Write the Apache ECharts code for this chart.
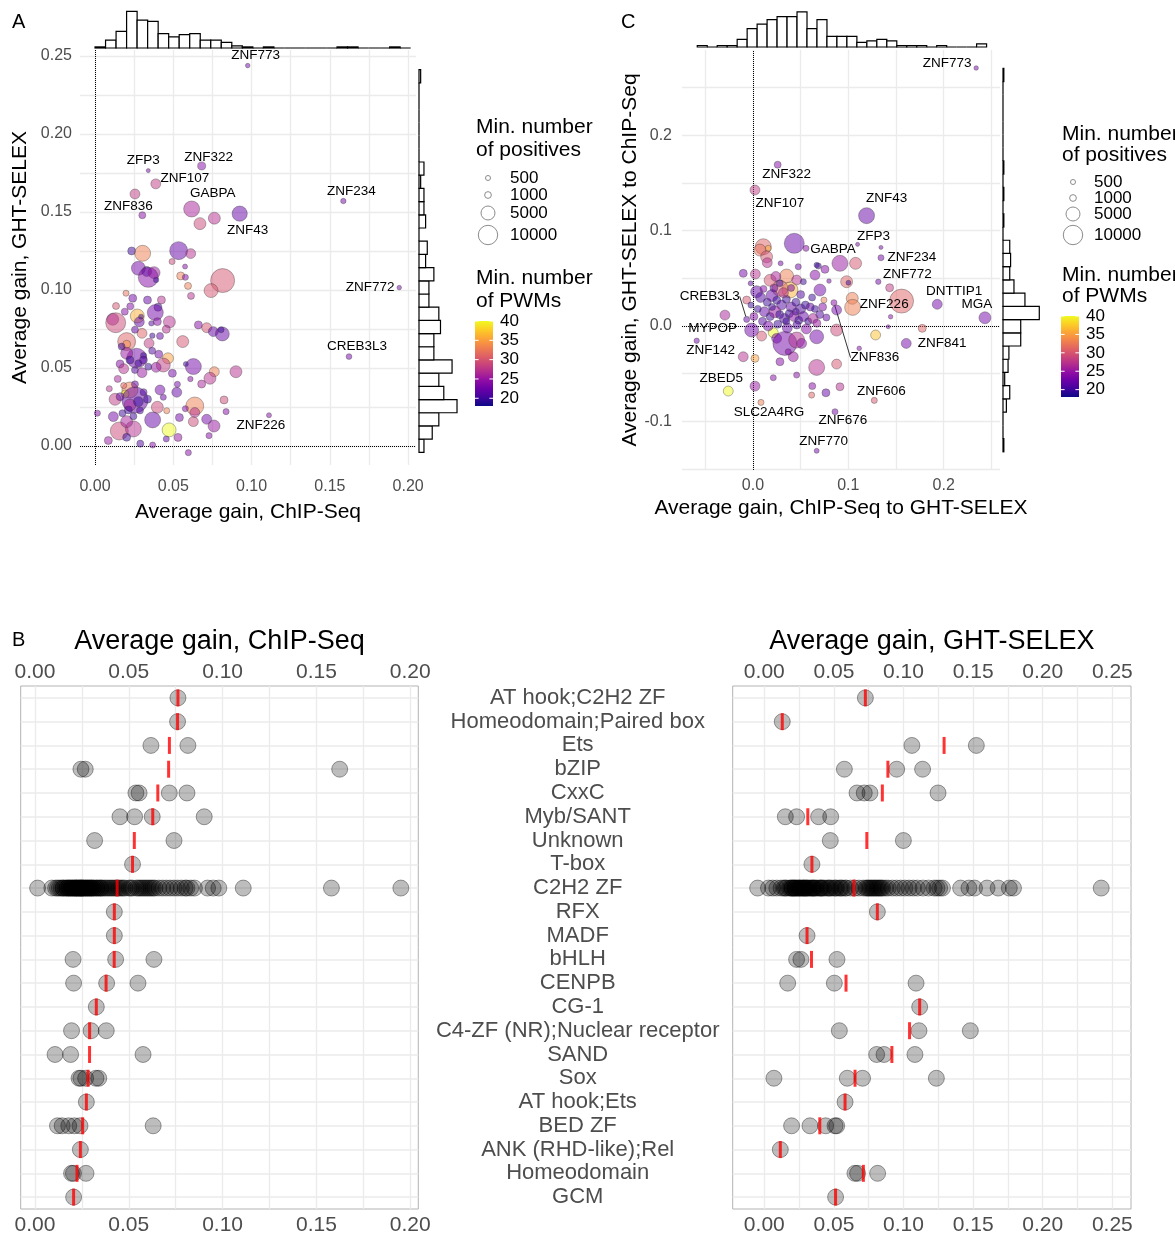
<!DOCTYPE html>
<html>
<head>
<meta charset="utf-8">
<script src="https://cdn.jsdelivr.net/npm/echarts@6/dist/echarts.min.js"></script>
<style>
  html, body { margin: 0; padding: 0; background: #fff; }
  #main { width: 1175px; height: 1236px; }
</style>
</head>
<body>
<div id="main"></div>
<script>
// ---- data ----
// panel A: [chip gain, ght gain, min positives, min PWMs, label]
var pointsA = [
  [0.0975, 0.2438, 400, 23, 'ZNF773'], [0.0681, 0.1795, 1500, 24, 'ZNF322'], [0.034, 0.1765, 300, 23, 'ZFP3'],
  [0.0388, 0.168, 2400, 28, 'ZNF107'], [0.0302, 0.1479, 1100, 24, 'ZNF836'], [0.0617, 0.1519, 6670, 26, 'GABPA'],
  [0.0924, 0.1489, 6000, 22, 'ZNF43'], [0.1586, 0.157, 600, 23, 'ZNF234'], [0.1943, 0.1015, 400, 23, 'ZNF772'],
  [0.1622, 0.0573, 700, 23, 'CREB3L3'], [0.1111, 0.0197, 500, 24, 'ZNF226'],
  [0.0255, 0.1615, 2400, 28], [0.067, 0.1425, 3600, 29], [0.0762, 0.146, 3600, 27], [0.0234, 0.125, 1480, 20],
  [0.0304, 0.1235, 6670, 33], [0.0534, 0.1252, 8540, 22], [0.0611, 0.1233, 2400, 27], [0.0492, 0.1182, 800, 29],
  [0.0575, 0.115, 500, 24], [0.0277, 0.1139, 5000, 23], [0.033, 0.1118, 2400, 20], [0.0377, 0.1111, 3600, 25],
  [0.034, 0.1081, 10660, 24], [0.039, 0.1064, 600, 20], [0.0547, 0.109, 1480, 33], [0.0577, 0.1081, 800, 24],
  [0.0815, 0.106, 15580, 30], [0.0594, 0.1026, 1100, 33], [0.0741, 0.0996, 5000, 30], [0.0613, 0.0962, 1100, 27],
  [0.0198, 0.0979, 800, 32], [0.0241, 0.0947, 1480, 23], [0.0424, 0.0936, 1480, 27], [0.0134, 0.0897, 1100, 30],
  [0.019, 0.0861, 1100, 24], [0.0402, 0.0889, 1480, 20], [0.0385, 0.0855, 6670, 23], [0.027, 0.0833, 5000, 36],
  [0.0294, 0.0829, 500, 20], [0.0113, 0.0812, 3600, 25], [0.0132, 0.079, 10660, 29], [0.0283, 0.0795, 2400, 22],
  [0.036, 0.0786, 600, 21], [0.0398, 0.0797, 1480, 24], [0.0475, 0.0795, 3600, 27], [0.03, 0.0722, 2400, 31],
  [0.0366, 0.0707, 600, 20], [0.066, 0.0776, 1480, 24], [0.0713, 0.0758, 2400, 30], [0.0755, 0.0733, 2400, 22],
  [0.0813, 0.0718, 5000, 22], [0.0805, 0.0745, 800, 20], [0.0202, 0.0669, 8540, 31], [0.0202, 0.0652, 1480, 34],
  [0.0345, 0.0658, 2400, 28], [0.0266, 0.0562, 10660, 23], [0.031, 0.058, 800, 20], [0.016, 0.0526, 1480, 24],
  [0.0202, 0.0594, 3600, 25], [0.0407, 0.0588, 1480, 23], [0.0466, 0.0562, 3000, 35], [0.0436, 0.0519, 5000, 28],
  [0.039, 0.0504, 2400, 25], [0.056, 0.0669, 3600, 30], [0.0628, 0.0509, 6670, 23], [0.058, 0.0525, 500, 20],
  [0.0494, 0.0466, 1480, 23], [0.0762, 0.0476, 2400, 33], [0.0734, 0.0434, 3600, 27], [0.09, 0.0476, 3600, 27],
  [0.0609, 0.0429, 600, 24], [0.0681, 0.0397, 1480, 26], [0.0526, 0.0395, 800, 23], [0.0522, 0.0344, 2400, 22],
  [0.0415, 0.0359, 2400, 23], [0.0436, 0.0312, 800, 22], [0.0223, 0.0359, 6670, 33], [0.0183, 0.0387, 800, 31],
  [0.0091, 0.0367, 800, 27], [0.0192, 0.0333, 1480, 40], [0.0128, 0.0299, 3600, 28], [0.0255, 0.0295, 18500, 22],
  [0.0223, 0.0263, 3600, 26], [0.0398, 0.0248, 3600, 29], [0.0458, 0.0226, 800, 33], [0.0637, 0.0256, 8540, 33],
  [0.0637, 0.0214, 2400, 27], [0.0628, 0.0156, 2400, 29], [0.0577, 0.0239, 800, 24], [0.0539, 0.0182, 1480, 23],
  [0.0713, 0.0171, 2400, 23], [0.076, 0.0128, 3600, 25], [0.0824, 0.0295, 1480, 29], [0.0837, 0.022, 800, 24],
  [0.0728, 0.0066, 800, 24], [0.0473, 0.0103, 5000, 40], [0.0368, 0.0167, 6670, 22], [0.0155, 0.0096, 8540, 29],
  [0.0245, 0.0109, 6670, 27], [0.0202, 0.0056, 1480, 20], [0.0117, 0.0188, 2400, 23], [0.0202, 0.0156, 3600, 26],
  [0.0015, 0.021, 800, 24], [0.0368, 0.0006, 800, 24], [0.0596, -0.0043, 800, 24],
  [0.017, 0.0637, 1100, 20], [0.0223, 0.0551, 1480, 20], [0.0277, 0.053, 1100, 20], [0.0309, 0.0551, 1480, 21],
  [0.034, 0.0508, 1100, 20], [0.0255, 0.0487, 1100, 21], [0.0183, 0.0495, 2400, 27], [0.03, 0.047, 2400, 25],
  [0.016, 0.0316, 1480, 22], [0.0277, 0.0284, 2400, 20], [0.0213, 0.0231, 1480, 20], [0.0287, 0.0228, 1100, 21],
  [0.0245, 0.019, 1100, 20], [0.0175, 0.021, 1100, 20], [0.0335, 0.03, 1480, 20], [0.0255, 0.0395, 1100, 22],
  [0.031, 0.0345, 1100, 21], [0.0145, 0.043, 1100, 26], [0.0365, 0.061, 1100, 21], [0.0415, 0.0705, 1100, 22],
  [0.0455, 0.0748, 1480, 27], [0.0255, 0.0745, 1100, 22], [0.0225, 0.0895, 1100, 24], [0.0335, 0.0935, 1480, 22],
  [0.0455, 0.0045, 800, 22], [0.0289, 0.0015, 1100, 21], [0.053, 0.0055, 1480, 25], [0.0085, 0.0035, 1480, 25]
];

// panel C: [chip->ght gain, ght->chip gain, min positives, min PWMs, label]
var pointsC = [
  [0.234, 0.2707, 400, 23, 'ZNF773'], [0.0259, 0.1693, 1100, 24, 'ZNF322'], [0.0021, 0.1427, 2400, 28, 'ZNF107'],
  [0.1191, 0.1158, 6670, 22, 'ZNF43'], [0.1097, 0.0857, 300, 23, 'ZFP3'], [0.0556, 0.0815, 800, 24, 'GABPA'],
  [0.1342, 0.0717, 800, 23, 'ZNF234'], [0.1314, 0.0465, 600, 23, 'ZNF772'], [0.1041, 0.0291, 3600, 33, 'ZNF226'],
  [0.1932, 0.0228, 2400, 23, 'DNTTIP1'], [0.2432, 0.0087, 3600, 23, 'MGA'], [0.1607, -0.0182, 2400, 23, 'ZNF841'],
  [0.0849, 0.0245, 800, 24, 'ZNF836'], [-0.0066, 0.007, 800, 22, 'CREB3L3'], [-0.0014, -0.0042, 5000, 23, 'MYPOP'],
  [-0.059, -0.0154, 600, 23, 'ZNF142'], [-0.0259, -0.0682, 2400, 40, 'ZBED5'], [0.0084, -0.0801, 800, 33, 'SLC2A4RG'],
  [0.1272, -0.078, 800, 30, 'ZNF606'], [0.086, -0.0899, 800, 23, 'ZNF676'], [0.0668, -0.1309, 500, 23, 'ZNF770'],
  [0.0433, 0.0868, 10660, 22], [0.0108, 0.0832, 6670, 31], [0.016, 0.0815, 800, 36], [0.0073, 0.0797, 3600, 32],
  [0.0143, 0.0727, 3600, 30], [0.015, 0.0665, 2400, 27], [0.029, 0.0658, 500, 23], [0.1342, 0.0825, 300, 23],
  [0.0912, 0.0658, 6670, 25], [0.1076, 0.0658, 3600, 30], [0.0685, 0.063, 800, 20], [0.0755, 0.0595, 1480, 24],
  [0.0982, 0.0465, 3600, 31], [0.1001, 0.0455, 500, 20], [0.0797, 0.0472, 400, 23], [0.1433, 0.0402, 1480, 28],
  [0.1558, 0.0262, 15580, 31], [0.1775, -0.0024, 1480, 31], [0.1443, 0.0098, 400, 24], [0.1418, -0.0007, 300, 23],
  [0.1286, -0.0094, 2400, 37], [0.1045, 0.0196, 6670, 33], [0.0877, 0.0168, 2400, 23], [0.0744, 0.0273, 800, 33],
  [0.0702, 0.0378, 3600, 23], [0.065, 0.0535, 2400, 24], [0.0668, 0.064, 600, 20], [0.0475, 0.0622, 800, 23],
  [0.0353, 0.0525, 5000, 33], [0.0458, 0.0483, 2400, 27], [0.0528, 0.0465, 800, 20], [0.0388, 0.0378, 6670, 36],
  [0.0283, 0.0396, 6670, 31], [-0.0102, 0.0553, 1480, 23], [-0.0024, 0.0448, 500, 22], [0.0038, 0.036, 3600, 22],
  [-0.0066, 0.0273, 1480, 30], [-0.0021, 0.022, 800, 20], [-0.0294, 0.0115, 2400, 26], [0.0213, -0.007, 2400, 40],
  [0.0091, -0.0105, 2400, 30], [0.0248, -0.0129, 2400, 23], [0.0335, -0.0182, 15580, 23], [0.0458, -0.0147, 6670, 27],
  [0.0668, -0.0112, 5000, 23], [0.0877, -0.0042, 3600, 29], [0.051, -0.0182, 2400, 24], [0.1114, -0.0234, 400, 24],
  [-0.0102, -0.0322, 2400, 27], [0.0021, -0.0339, 1480, 35], [0.0283, -0.0374, 1480, 24], [0.0423, -0.0322, 2400, 25],
  [0.037, -0.027, 800, 24], [0.0668, -0.0434, 6670, 27], [0.0877, -0.0399, 2400, 30], [0.0213, -0.0542, 800, 24],
  [0.0458, -0.0514, 800, 24], [0.0021, -0.063, 2400, 25], [0.0622, -0.063, 1100, 24], [0.0912, -0.0637, 1480, 27],
  [0.0765, -0.07, 1480, 22], [0.0615, -0.0724, 800, 31],
  [0.008, 0.03, 2400, 21], [0.015, 0.025, 1480, 20], [0.02, 0.032, 3600, 22], [0.025, 0.027, 1480, 20],
  [0.03, 0.022, 2400, 21], [0.035, 0.028, 1480, 20], [0.04, 0.02, 2400, 22], [0.045, 0.025, 1480, 20],
  [0.05, 0.018, 2400, 21], [0.055, 0.022, 1480, 20], [0.06, 0.02, 1480, 22], [0.065, 0.018, 1100, 20],
  [0.07, 0.012, 1480, 21], [0.012, 0.015, 2400, 22], [0.018, 0.01, 1480, 20], [0.023, 0.015, 3600, 25],
  [0.028, 0.012, 1480, 20], [0.033, 0.008, 2400, 21], [0.038, 0.013, 1480, 20], [0.043, 0.01, 2400, 24],
  [0.048, 0.006, 1480, 20], [0.053, 0.01, 2400, 22], [0.058, 0.005, 1100, 20], [0.063, 0.008, 2400, 26],
  [0.01, 0.005, 1480, 21], [0.016, 0.0, 2400, 23], [0.026, 0.002, 1480, 20], [0.036, -0.002, 2400, 22],
  [0.046, 0.001, 1480, 21], [0.056, -0.003, 2400, 24], [0.032, 0.035, 2400, 27], [0.022, 0.04, 1480, 22],
  [0.011, 0.039, 1100, 24], [0.05, 0.033, 1480, 21], [0.062, 0.03, 1100, 20], [0.073, 0.02, 1480, 24],
  [0.077, 0.009, 1100, 22], [0.005, 0.018, 1100, 20], [0.001, 0.01, 1480, 24], [0.04, 0.04, 1100, 23],
  [0.028, 0.045, 1100, 20], [0.018, 0.048, 3600, 30], [0.024, 0.052, 2400, 26], [0.035, 0.005, 1100, 20],
  [0.045, 0.015, 1100, 21], [0.02, 0.02, 1100, 20], [0.067, 0.003, 1480, 25], [0.0025, 0.0545, 2400, 27]
];

// marginal histograms (counts per bin)
var histATop = [1, 7, 15, 33, 25, 24, 13, 10, 12, 13, 7, 7, 5, 2, 1, 0, 1, 0, 0, 0, 0, 0, 0, 1, 1, 0, 0, 0, 1, 0];
var histATopStart = 0, histATopWidth = 0.00672;
var histARight = [3, 8, 12, 23, 15, 12, 20, 9, 9, 13, 12, 6, 6, 9, 4, 5, 0, 4, 3, 3, 1, 3, 0, 0, 0, 0, 0, 0, 1];
var histARightStart = -0.0041, histARightWidth = 0.00846;
var histCTop = [1, 0, 1, 1, 5, 12, 15, 18, 20, 20, 23, 12, 18, 7, 7, 7, 3, 4, 5, 4, 1, 1, 1, 0, 1, 0, 0, 0, 2];
var histCTopStart = -0.0584, histCTopWidth = 0.01046;
var histCRight = [1, 0, 0, 4, 8, 2, 6, 7, 21, 21, 43, 26, 13, 8, 9, 8, 0, 1, 0, 1, 0, 1, 0, 0, 0, 0, 0, 0, 1];
var histCRightStart = -0.1319, histCRightWidth = 0.01387;

// panel B
var families = ['AT hook;C2H2 ZF', 'Homeodomain;Paired box', 'Ets', 'bZIP', 'CxxC', 'Myb/SANT', 'Unknown', 'T-box',
  'C2H2 ZF', 'RFX', 'MADF', 'bHLH', 'CENPB', 'CG-1', 'C4-ZF (NR);Nuclear receptor', 'SAND', 'Sox', 'AT hook;Ets',
  'BED ZF', 'ANK (RHD-like);Rel', 'Homeodomain', 'GCM'];
var chipByFamily = [
  [0.0762], [0.076], [0.0618, 0.0815], [0.0245, 0.0268, 0.1624], [0.0538, 0.0555, 0.0716, 0.081],
  [0.0453, 0.0531, 0.0625, 0.0902], [0.0318, 0.0741], [0.052],
  [0.0014, 0.009, 0.011, 0.012, 0.013, 0.014, 0.015, 0.015, 0.016, 0.017, 0.017, 0.018, 0.018, 0.019, 0.019,
   0.02, 0.02, 0.021, 0.021, 0.022, 0.022, 0.022, 0.023, 0.023, 0.024, 0.024, 0.024, 0.025, 0.025, 0.025, 0.026,
   0.026, 0.027, 0.027, 0.028, 0.028, 0.029, 0.029, 0.03, 0.03, 0.031, 0.031, 0.032, 0.033, 0.033, 0.034, 0.035,
   0.035, 0.036, 0.037, 0.038, 0.039, 0.04, 0.041, 0.042, 0.043, 0.044, 0.045, 0.046, 0.047, 0.048, 0.05, 0.051,
   0.052, 0.054, 0.055, 0.056, 0.057, 0.058, 0.059, 0.06, 0.061, 0.062, 0.063, 0.064, 0.066, 0.068, 0.07, 0.072,
   0.074, 0.076, 0.078, 0.08, 0.081, 0.083, 0.085, 0.092, 0.095, 0.098, 0.111, 0.158, 0.195],
  [0.0423], [0.0423], [0.0203, 0.043, 0.0634], [0.0206, 0.0382, 0.0549], [0.0327], [0.0195, 0.0299, 0.038],
  [0.0107, 0.019, 0.0576], [0.0235, 0.0245, 0.027, 0.0325, 0.034], [0.0274],
  [0.012, 0.0145, 0.018, 0.021, 0.024, 0.063], [0.0242], [0.0195, 0.0205, 0.0272], [0.0206]
];
var ghtByFamily = [
  [0.0726], [0.0129], [0.106, 0.1523], [0.0575, 0.0951, 0.1137], [0.0666, 0.0718, 0.0759, 0.1248],
  [0.0151, 0.0232, 0.039, 0.0477], [0.0474, 0.0999], [0.0342],
  [-0.0048, 0.003, 0.006, 0.009, 0.012, 0.014, 0.015, 0.016, 0.018, 0.019, 0.02, 0.02, 0.021, 0.022, 0.022, 0.023,
   0.024, 0.025, 0.025, 0.026, 0.027, 0.028, 0.028, 0.029, 0.03, 0.03, 0.031, 0.032, 0.033, 0.034, 0.035, 0.035,
   0.036, 0.037, 0.038, 0.04, 0.04, 0.041, 0.042, 0.043, 0.045, 0.046, 0.047, 0.048, 0.05, 0.051, 0.052, 0.054,
   0.055, 0.056, 0.058, 0.059, 0.062, 0.065, 0.068, 0.071, 0.073, 0.074, 0.075, 0.076, 0.077, 0.078, 0.079, 0.08,
   0.081, 0.082, 0.083, 0.084, 0.085, 0.087, 0.089, 0.092, 0.095, 0.098, 0.101, 0.104, 0.107, 0.11, 0.114, 0.118,
   0.122, 0.124, 0.126, 0.128, 0.141, 0.147, 0.151, 0.16, 0.168, 0.176, 0.179, 0.242],
  [0.0812], [0.0307], [0.0232, 0.0263, 0.0522], [0.0168, 0.0503, 0.109], [0.1116], [0.0539, 0.1111, 0.148],
  [0.0807, 0.086, 0.1082], [0.0069, 0.0596, 0.0706, 0.1236], [0.058],
  [0.0196, 0.0328, 0.0441, 0.0508, 0.052], [0.0115], [0.0651, 0.067, 0.0814], [0.0512]
];

// legend breaks and axis ticks
var sizeBreaks = [500, 1000, 5000, 10000];
var pwmBreaks = [40, 35, 30, 25, 20];
var ticksA_x = [0, 0.025, 0.05, 0.075, 0.1, 0.125, 0.15, 0.175, 0.2];
var labelsA_x = [0, 0.05, 0.1, 0.15, 0.2];
var ticksA_y = [0, 0.025, 0.05, 0.075, 0.1, 0.125, 0.15, 0.175, 0.2, 0.225, 0.25];
var labelsA_y = [0, 0.05, 0.1, 0.15, 0.2, 0.25];
var ticksC_x = [-0.05, 0, 0.05, 0.1, 0.15, 0.2, 0.25];
var labelsC_x = [0, 0.1, 0.2];
var ticksC_y = [-0.15, -0.1, -0.05, 0, 0.05, 0.1, 0.15, 0.2, 0.25];
var labelsC_y = [-0.1, 0, 0.1, 0.2];
var ticksB_left = [0, 0.025, 0.05, 0.075, 0.1, 0.125, 0.15, 0.175, 0.2];
var labelsB_left = [0, 0.05, 0.1, 0.15, 0.2];
var ticksB_right = [0, 0.025, 0.05, 0.075, 0.1, 0.125, 0.15, 0.175, 0.2, 0.225, 0.25];
var labelsB_right = [0, 0.05, 0.1, 0.15, 0.2, 0.25];

// ---- styling ----
var FONT = '"Liberation Sans", Arial, sans-serif';
var GRID_COL = '#ebebeb';
var plasma = ['#0d0887', '#41049d', '#6a00a8', '#8f0da4', '#b12a90', '#cc4778', '#e16462', '#f2844b', '#fca636', '#fcce25', '#f0f921'];
var pwmLow = 18, pwmHigh = 40;

var labelOffA = { ZNF773: [8, -10], ZNF322: [7, -9], ZFP3: [-5, -10], ZNF107: [29, -6], ZNF836: [-14, -9],
  GABPA: [21, -16], ZNF43: [8, 17], ZNF234: [8, -10], ZNF772: [-29, 0], CREB3L3: [8, -10], ZNF226: [-8, 10] };
var labelOffC = { ZNF773: [-29, -5], ZNF322: [9, 10], ZNF107: [25, 13], ZNF43: [20, -17], ZFP3: [16, -8],
  GABPA: [27, 1], ZNF234: [31, 0], ZNF772: [29, -7], ZNF226: [32, 6], DNTTIP1: [17, -13], MGA: [-8, -13],
  ZNF841: [36, 0], ZNF836: [41, 55], CREB3L3: [-37, -23], MYPOP: [-39, -2], ZNF142: [14, 10], ZBED5: [-7, -13],
  SLC2A4RG: [8, 10], ZNF606: [7, -9], ZNF676: [8, 9], ZNF770: [7, -10] };
var leaderC = { ZNF836: true, CREB3L3: true };

function radius(pos) { return 0.43 + 0.0927 * Math.sqrt(pos); }
function mean(a) { var s = 0; for (var i = 0; i < a.length; i++) s += a[i]; return s / a.length; }

function valAxis(o) {
  var ax = {
    type: 'value', gridIndex: o.grid, min: o.min, max: o.max,
    axisLine: { show: false },
    axisTick: { show: false },
    splitLine: { show: false },
    axisLabel: { show: false }
  };
  if (o.ticks) {
    ax.axisTick.customValues = o.ticks;
    ax.splitLine = { show: true, lineStyle: { color: GRID_COL, width: 1.3 } };
  }
  if (o.labels) {
    ax.axisLabel = {
      show: true, customValues: o.labels, color: '#4d4d4d', fontSize: o.fontSize || 16,
      fontFamily: FONT, margin: o.margin || 8,
      formatter: function (v) { return v.toFixed(o.digits); }
    };
  }
  if (o.name) {
    ax.name = o.name; ax.nameLocation = 'middle'; ax.nameGap = o.nameGap;
    ax.nameTextStyle = { color: '#000', fontSize: o.nameSize || 21, fontFamily: FONT };
  }
  if (o.position) ax.position = o.position;
  return ax;
}

function scatterSeries(points, xi, yi, offs, leaders) {
  return {
    type: 'scatter', xAxisIndex: xi, yAxisIndex: yi,
    data: points.map(function (p) {
      var item = { value: [p[0], p[1], p[2], p[3]], name: p[4] || '' };
      if (p[4]) {
        item.label = { show: true };
        if (leaders && leaders[p[4]]) item.labelLine = { show: true, lineStyle: { color: '#000', width: 0.8 } };
      }
      return item;
    }),
    symbolSize: function (v) { return 2 * radius(v[2]); },
    itemStyle: { opacity: 0.5, borderColor: '#333', borderWidth: 0.7 },
    label: { show: false, formatter: '{b}', position: 'inside', color: '#000', fontSize: 13.5, fontFamily: FONT, opacity: 1 },
    labelLine: { show: false },
    labelLayout: function (params) {
      var n = points[params.dataIndex][4];
      var o = n ? offs[n] : null;
      return o ? { dx: o[0], dy: o[1] } : {};
    },
    markLine: {
      silent: true, symbol: ['none', 'none'], z: 1, animation: false,
      label: { show: false },
      lineStyle: { color: '#000', type: 'dotted', width: 1 },
      data: [{ xAxis: 0 }, { yAxis: 0 }]
    }
  };
}

function histTop(counts, start, width, xi, yi) {
  return {
    type: 'custom', xAxisIndex: xi, yAxisIndex: yi,
    data: counts.map(function (c, i) { return [i, c]; }),
    renderItem: function (params, api) {
      var i = api.value(0), c = api.value(1);
      var p0 = api.coord([start + i * width, c]);
      var p1 = api.coord([start + (i + 1) * width, 0]);
      return { type: 'rect', shape: { x: p0[0], y: p0[1], width: p1[0] - p0[0], height: p1[1] - p0[1] },
        style: { fill: '#fff', stroke: '#000', lineWidth: 1.2 } };
    }
  };
}
function histRight(counts, start, width, xi, yi) {
  return {
    type: 'custom', xAxisIndex: xi, yAxisIndex: yi,
    data: counts.map(function (c, i) { return [c, i]; }),
    renderItem: function (params, api) {
      var c = api.value(0), i = api.value(1);
      var p0 = api.coord([0, start + (i + 1) * width]);
      var p1 = api.coord([c, start + i * width]);
      return { type: 'rect', shape: { x: p0[0], y: p0[1], width: p1[0] - p0[0], height: p1[1] - p0[1] },
        style: { fill: '#fff', stroke: '#000', lineWidth: 1.2 } };
    }
  };
}

function dotData(byFam) {
  var out = [];
  byFam.forEach(function (vals, i) { vals.forEach(function (v) { out.push([v, families[i]]); }); });
  return out;
}
function meanData(byFam) {
  return byFam.map(function (vals, i) { return [mean(vals), families[i]]; });
}
function dotSeries(byFam, xi, yi) {
  return {
    type: 'scatter', xAxisIndex: xi, yAxisIndex: yi, data: dotData(byFam), symbolSize: 16,
    itemStyle: { color: 'rgba(0,0,0,0.32)', borderColor: 'rgba(0,0,0,0.45)', borderWidth: 1 },
    markLine: {
      silent: true, symbol: ['none', 'none'], z: 1, animation: false, label: { show: false },
      lineStyle: { color: GRID_COL, type: 'solid', width: 1.6 },
      data: families.map(function (f) { return { yAxis: f }; })
    }
  };
}
function meanSeries(byFam, xi, yi) {
  return {
    type: 'scatter', xAxisIndex: xi, yAxisIndex: yi, data: meanData(byFam), z: 4,
    symbol: 'rect', symbolSize: [3, 17], itemStyle: { color: '#ff0000' }
  };
}

// ---- legends (graphic) ----
var graphics = [];
function txt(x, y, s, size, extra) {
  graphics.push({ type: 'text', x: x, y: y, silent: true,
    style: Object.assign({ text: s, fontSize: size, fontFamily: FONT, fill: '#000', align: 'left', verticalAlign: 'middle' }, extra || {}) });
}
function legend(L) {
  txt(L.x, L.t1, 'Min. number', 21);
  txt(L.x, L.t1 + L.lh, 'of positives', 21);
  sizeBreaks.forEach(function (b, i) {
    graphics.push({ type: 'circle', silent: true, shape: { cx: L.cx, cy: L.sy[i], r: radius(b) },
      style: { fill: '#fff', stroke: '#8c8c8c', lineWidth: 1 } });
    txt(L.tx, L.sy[i], String(b), 17);
  });
  txt(L.x, L.t2, 'Min. number', 21);
  txt(L.x, L.t2 + L.lh, 'of PWMs', 21);
  var stops = plasma.map(function (c, k) { return { offset: 1 - k / (plasma.length - 1), color: c }; });
  graphics.push({ type: 'rect', silent: true, shape: { x: L.bx, y: L.bTop, width: 18, height: L.bH },
    style: { fill: new echarts.graphic.LinearGradient(0, 0, 0, 1, stops) } });
  var k = L.bH / (pwmHigh - pwmLow);
  pwmBreaks.forEach(function (v) {
    var y = L.bTop + (pwmHigh - v) * k;
    graphics.push({ type: 'line', silent: true, shape: { x1: L.bx, y1: y, x2: L.bx + 3.6, y2: y }, style: { stroke: '#fff', lineWidth: 1 } });
    graphics.push({ type: 'line', silent: true, shape: { x1: L.bx + 14.4, y1: y, x2: L.bx + 18, y2: y }, style: { stroke: '#fff', lineWidth: 1 } });
    txt(L.bx + 25, y, String(v), 17);
  });
}
legend({ x: 476, t1: 127, lh: 23, cx: 488, sy: [178, 195, 213, 235], tx: 510, t2: 278, bx: 475, bTop: 321, bH: 85 });
legend({ x: 1062, t1: 134, lh: 21, cx: 1073, sy: [182, 198, 214, 235], tx: 1094, t2: 275, bx: 1061, bTop: 316, bH: 81 });
txt(12, 22, 'A', 20);
txt(621, 22, 'C', 20);
txt(12, 640, 'B', 20);

// ---- chart ----
var chart = echarts.init(document.getElementById('main'), null, { renderer: 'canvas' });
var option = {
  animation: false,
  backgroundColor: '#fff',
  grid: [
    { left: 80, top: 50, width: 336, height: 415 },             // A scatter
    { left: 80, top: 8, width: 336, height: 40 },               // A top hist
    { left: 419, top: 50, width: 40, height: 415 },             // A right hist
    { left: 682, top: 50, width: 318, height: 420 },            // C scatter
    { left: 682, top: 8, width: 318, height: 39 },              // C top hist
    { left: 1003, top: 50, width: 40, height: 420 },            // C right hist
    { left: 20.7, top: 686, width: 397.6, height: 526, show: true, borderColor: '#b3b3b3', borderWidth: 1 },  // B left
    { left: 732.7, top: 686, width: 398.3, height: 526, show: true, borderColor: '#b3b3b3', borderWidth: 1 }  // B right
  ],
  xAxis: [
    valAxis({ grid: 0, min: -0.0096, max: 0.205, ticks: ticksA_x, labels: labelsA_x, digits: 2, margin: 14,
      name: 'Average gain, ChIP-Seq', nameGap: 37 }),
    valAxis({ grid: 1, min: -0.0096, max: 0.205 }),
    valAxis({ grid: 2, min: 0, max: 24.2 }),
    valAxis({ grid: 3, min: -0.0744, max: 0.259, ticks: ticksC_x, labels: labelsC_x, digits: 1, margin: 8,
      name: 'Average gain, ChIP-Seq to GHT-SELEX', nameGap: 28 }),
    valAxis({ grid: 4, min: -0.0744, max: 0.259 }),
    valAxis({ grid: 5, min: 0, max: 47.4 }),
    valAxis({ grid: 6, min: -0.0076, max: 0.2043, ticks: ticksB_left, labels: labelsB_left, digits: 2, margin: 3,
      fontSize: 21, position: 'top', name: 'Average gain, ChIP-Seq', nameGap: 31, nameSize: 27 }),
    valAxis({ grid: 6, min: -0.0076, max: 0.2043, labels: labelsB_left, digits: 2, margin: 6, fontSize: 21, position: 'bottom' }),
    valAxis({ grid: 7, min: -0.0227, max: 0.2634, ticks: ticksB_right, labels: labelsB_right, digits: 2, margin: 3,
      fontSize: 21, position: 'top', name: 'Average gain, GHT-SELEX', nameGap: 31, nameSize: 27 }),
    valAxis({ grid: 7, min: -0.0227, max: 0.2634, labels: labelsB_right, digits: 2, margin: 6, fontSize: 21, position: 'bottom' })
  ],
  yAxis: [
    valAxis({ grid: 0, min: -0.0122, max: 0.2538, ticks: ticksA_y, labels: labelsA_y, digits: 2, margin: 8,
      name: 'Average gain, GHT-SELEX', nameGap: 49 }),
    valAxis({ grid: 1, min: 0, max: 36 }),
    valAxis({ grid: 2, min: -0.0122, max: 0.2538 }),
    valAxis({ grid: 3, min: -0.151, max: 0.2896, ticks: ticksC_y, labels: labelsC_y, digits: 1, margin: 10,
      name: 'Average gain, GHT-SELEX to ChIP-Seq', nameGap: 41 }),
    valAxis({ grid: 4, min: 0, max: 25.6 }),
    valAxis({ grid: 5, min: -0.151, max: 0.2896 }),
    { type: 'category', gridIndex: 6, data: families, inverse: true,
      axisLine: { show: false }, axisTick: { show: false }, axisLabel: { show: false }, splitLine: { show: false } },
    { type: 'category', gridIndex: 7, data: families, inverse: true,
      axisLine: { show: false }, axisTick: { show: false }, splitLine: { show: false },
      axisLabel: { show: true, interval: 0, align: 'center', margin: 155, fontSize: 22, color: '#4d4d4d', fontFamily: FONT } }
  ],
  visualMap: [{
    type: 'continuous', show: false, min: pwmLow, max: pwmHigh, dimension: 3, seriesIndex: [0, 3],
    inRange: { color: plasma }
  }],
  series: [
    scatterSeries(pointsA, 0, 0, labelOffA, null),
    histTop(histATop, histATopStart, histATopWidth, 1, 1),
    histRight(histARight, histARightStart, histARightWidth, 2, 2),
    scatterSeries(pointsC, 3, 3, labelOffC, leaderC),
    histTop(histCTop, histCTopStart, histCTopWidth, 4, 4),
    histRight(histCRight, histCRightStart, histCRightWidth, 5, 5),
    dotSeries(chipByFamily, 6, 6),
    meanSeries(chipByFamily, 6, 6),
    dotSeries(ghtByFamily, 8, 7),
    meanSeries(ghtByFamily, 8, 7)
  ],
  graphic: graphics
};
chart.setOption(option);
</script>
</body>
</html>
